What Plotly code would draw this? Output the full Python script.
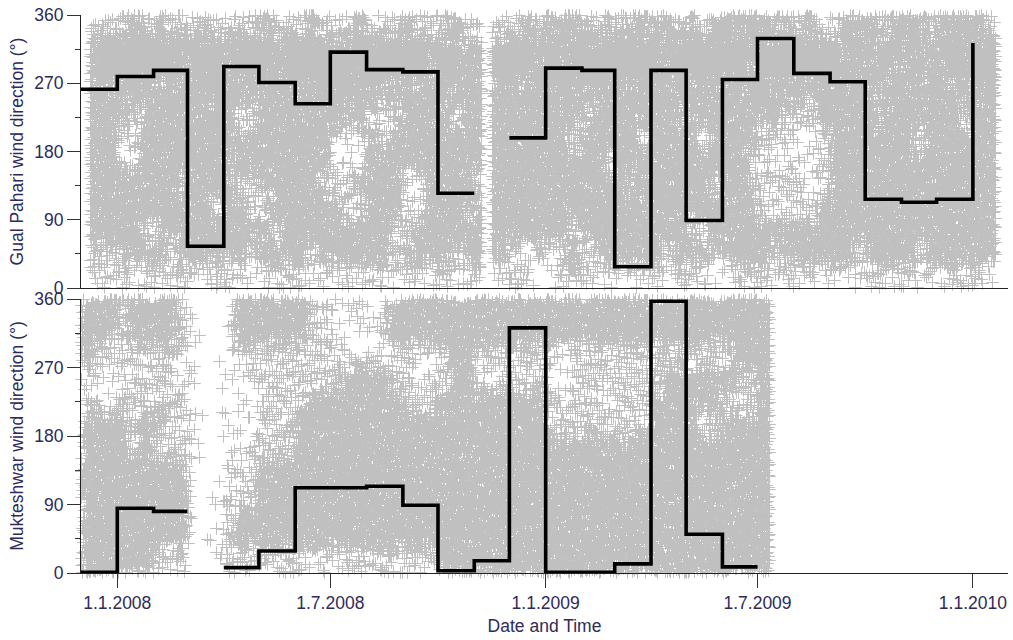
import numpy as np
import pandas as pd
import plotly.graph_objects as go

# ---------------------------------------------------------------------------
# Monthly mean wind direction (degrees), held over each calendar month
# ---------------------------------------------------------------------------
gp_months = pd.date_range("2007-12-01", "2010-01-01", freq="MS")
gp_mean = [262, 279, 287, 55, 292, 271, 243, 311, 288, 285, 125, None,
           198, 290, 287, 28, 287, 89, 275, 329, 283, 272, 117, 113, 117, 323]

mk_months = pd.date_range("2007-12-01", "2009-07-01", freq="MS")
mk_mean = [1, 85, 81, None, 7, 29, 112, 112, 114, 89, 3, 16,
           322, 1, 1, 12, 357, 51, 8, None]

# ---------------------------------------------------------------------------
# Hourly observation density (0 none .. 4 saturated).
# One row per 30-degree sector (330-360 first, 0-30 last); one character per
# ten-day period (days 1-10, 11-20, 21-end), grouped by month from Dec 2007.
# ---------------------------------------------------------------------------
gp_density = [
    "222 232 322 232 222 322 232 223 222 322 232 222 232 333 323 233 332 323 333 323 232 233 323 332 333 323",
    "344 444 444 444 444 444 444 444 444 444 443 344 444 434 444 444 444 444 444 444 444 434 344 443 444 444",
    "344 444 443 444 344 434 444 444 444 443 443 344 443 444 444 444 434 444 443 444 444 443 343 343 343 444",
    "333 343 333 334 333 333 333 443 433 333 333 333 333 343 333 333 334 333 334 433 333 333 333 333 333 433",
    "333 323 333 333 312 333 333 333 112 333 323 333 333 333 233 333 332 333 333 332 223 333 323 333 332 333",
    "333 113 333 333 333 333 333 211 323 333 333 333 333 332 333 332 333 323 333 212 121 333 333 323 333 333",
    "333 123 333 333 233 333 333 121 333 333 333 333 333 333 332 333 333 333 332 211 112 333 333 333 333 333",
    "333 333 332 333 322 333 332 223 333 113 333 233 333 333 333 323 333 332 333 122 212 333 333 333 333 333",
    "333 333 333 332 332 233 333 322 333 123 332 333 333 333 333 333 333 333 333 212 223 333 333 333 333 333",
    "333 332 233 333 333 323 333 333 332 233 333 333 333 332 333 333 333 213 333 333 333 333 333 333 333 333",
    "322 333 323 333 332 333 323 333 332 333 323 332 112 223 233 333 323 332 333 323 333 332 333 323 333 333",
    "122 212 122 212 221 122 212 121 212 221 212 212 221 122 212 121 212 221 122 212 121 212 221 212 122 212",
]
gp_period = ("2007-12-09", "2010-01-21")
gp_missing = [("2008-11-08", "2008-11-16")]

mk_density = [
    "333 233 332 000 133 333 322 112 123 333 333 333 333 333 333 333 333 333 333 333",
    "333 233 332 100 133 333 322 111 123 333 333 333 333 333 333 333 333 333 333 333",
    "322 222 222 100 122 222 222 122 222 211 233 222 222 212 222 222 222 222 233 333",
    "111 122 221 100 111 222 222 233 332 211 233 112 222 112 222 222 233 333 322 333",
    "221 222 222 100 011 222 233 333 333 222 333 333 333 222 221 222 333 333 222 333",
    "333 323 322 100 111 222 333 333 333 333 333 333 333 222 222 222 333 322 333 333",
    "333 323 222 100 112 222 333 333 333 333 333 333 333 333 333 333 333 333 333 333",
    "333 333 333 000 122 333 333 333 333 333 333 333 333 333 333 333 333 333 333 333",
    "333 333 333 001 222 333 333 333 333 333 333 333 333 333 333 333 333 333 333 333",
    "333 333 333 001 233 333 333 333 333 333 333 333 333 333 333 333 333 333 333 333",
    "333 333 333 001 233 333 333 333 333 333 333 333 333 333 333 333 333 333 333 333",
    "333 333 222 001 222 222 212 122 222 222 333 333 333 333 333 333 333 333 333 333",
]
mk_period = ("2007-12-01", "2009-07-12")
mk_missing = []

tick_dates = ["2008-01-01", "2008-07-01", "2009-01-01", "2009-07-01", "2010-01-01"]
tick_text = ["1.1.2008", "1.7.2008", "1.1.2009", "1.7.2009", "1.1.2010"]
dir_ticks = [0, 90, 180, 270, 360]
dir_minor = [45, 135, 225, 315]

# ---------------------------------------------------------------------------
# Figure geometry
# ---------------------------------------------------------------------------
W, H = 1013, 640
ML, MR, MT, MB = 81, 5, 15, 67
X0, X1 = pd.Timestamp("2007-12-01"), pd.Timestamp("2010-01-31")
PLOT_W = W - ML - MR
PLOT_H = H - MT - MB
PX_PER_DAY = PLOT_W / (X1 - X0).days

TOP_Y0, TOP_Y1 = 15, 288      # Gual Pahari panel (screen rows)
BOT_Y0, BOT_Y1 = 299, 573     # Mukteshwar panel
top_domain = [(H - MB - TOP_Y1) / PLOT_H, 1.0]
bot_domain = [0.0, (H - MB - BOT_Y0) / PLOT_H]

# sampling step per density level: (column step, row step)
SAMPLING = {1: (5, 24), 2: (2, 17), 3: (1, 12), 4: (1, 8)}


def scramble(a, b, m):
    """Deterministic integer scramble used to spread samples inside a cell."""
    v = (a * 73856093) ^ (b * 19349663) ^ ((a + 7) * (b + 13) * 83492791)
    v = (v ^ (v >> 13)) * 1274126177
    return (v >> 7) % m


def observation_cloud(density, period, missing, y0, y1):
    grid = np.array([[int(ch) for ch in row.replace(" ", "")] for row in density])
    n_rows, n_cols = grid.shape
    start, end = pd.Timestamp(period[0]), pd.Timestamp(period[1])
    cell_w = 10 * PX_PER_DAY
    cell_h = (y1 - y0) / 12
    xs, ys = [], []
    for level, (sx, sy) in SAMPLING.items():
        cols = np.arange(ML - 2, ML + PLOT_W + 2, sx).astype(np.int64)
        ks = np.arange(-1, (y1 - y0) // sy + 2).astype(np.int64)
        C, K = np.meshgrid(cols, ks)
        C = C + scramble(K, C * 3 + level, sx)
        R = y0 + scramble(C, 11 * level, sy) + K * sy + scramble(C, K + 97 * level, max(sy // 2, 1)) - sy // 4
        cx = C.ravel() + 0.5
        cy = R.ravel() + 0.5
        # soften cell borders by probing the grid at a nearby location
        px = cx + (scramble(C.ravel(), K.ravel() + 5, 1000) / 1000.0 - 0.5) * cell_w
        py = cy + (scramble(K.ravel() + 17, C.ravel(), 1000) / 1000.0 - 0.5) * cell_h
        dates = X0 + pd.to_timedelta((cx - ML) / PX_PER_DAY, unit="D")
        vals = (y1 - cy) / (y1 - y0) * 360.0
        pdates = X0 + pd.to_timedelta((px - ML) / PX_PER_DAY, unit="D")
        pvals = np.clip((y1 - py) / (y1 - y0) * 360.0, 0, 359.99)
        month_idx = (pdates.year - 2007) * 12 + pdates.month - 12
        third = np.minimum((pdates.day - 1) // 10, 2)
        col = np.asarray(month_idx * 3 + third)
        row = np.clip(((360.0 - pvals) // 30).astype(int), 0, n_rows - 1)
        ok = (vals >= 0) & (vals <= 360) & (col >= 0) & (col < n_cols)
        ok &= np.asarray((dates >= start) & (dates <= end))
        ok &= (cx >= ML) & (cx <= ML + PLOT_W)
        for a, b in missing:
            ok &= ~np.asarray((dates >= pd.Timestamp(a)) & (dates < pd.Timestamp(b)))
        idx = np.where(ok)[0]
        sel = grid[row[idx], col[idx]] == level
        idx = idx[sel]
        xs.append(dates[idx])
        ys.append(vals[idx])
    x = xs[0].append(xs[1:])
    return x, np.concatenate(ys)


def monthly_steps(months, values):
    xs, ys = [], []
    for i, v in enumerate(values):
        if v is None:
            if xs and xs[-1] is not None:
                xs.append(None)
                ys.append(None)
            continue
        xs.append(months[i])
        ys.append(v)
        if i + 1 < len(values):
            xs.append(months[i + 1])
            ys.append(v)
    return xs, ys


FONT = "Liberation Sans, Arial, sans-serif"
TEXT = "#2e2a5c"
GREY = "#c0c0c0"

fig = go.Figure()

for (dens, per, miss, y0, y1, xa, ya) in [
    (gp_density, gp_period, gp_missing, TOP_Y0, TOP_Y1, "x2", "y2"),
    (mk_density, mk_period, mk_missing, BOT_Y0, BOT_Y1, "x", "y"),
]:
    cx, cy = observation_cloud(dens, per, miss, y0, y1)
    fig.add_trace(go.Scatter(
        x=cx, y=cy, xaxis=xa, yaxis=ya, mode="markers",
        marker=dict(symbol="cross-thin", size=9, color=GREY,
                    line=dict(color=GREY, width=1)),
        cliponaxis=False, hoverinfo="skip", showlegend=False,
    ))

for months, vals, xa, ya in [(gp_months, gp_mean, "x2", "y2"),
                             (mk_months, mk_mean, "x", "y")]:
    sx, sy = monthly_steps(months, vals)
    fig.add_trace(go.Scatter(
        x=sx, y=sy, xaxis=xa, yaxis=ya, mode="lines",
        line=dict(color="black", width=3.6),
        cliponaxis=False, hoverinfo="skip", showlegend=False,
    ))

axis_font = dict(family=FONT, size=17.5, color=TEXT)
yaxis_common = dict(
    range=[0, 360], tickvals=dir_ticks, ticks="outside", ticklen=13,
    tickwidth=1, tickcolor="#333333", showline=True, linecolor="#222222",
    linewidth=1, showgrid=False, zeroline=False, tickfont=axis_font,
    minor=dict(tickvals=dir_minor, ticks="outside", ticklen=5,
               tickwidth=1, tickcolor="#333333"),
    title_font=dict(family=FONT, size=17.5, color=TEXT), title_standoff=6,
)
xaxis_common = dict(
    type="date", range=[X0, X1], showline=True, linecolor="#222222",
    linewidth=1, showgrid=False, zeroline=False,
)

fig.update_layout(
    width=W, height=H, margin=dict(l=ML, r=MR, t=MT, b=MB, autoexpand=False),
    paper_bgcolor="white", plot_bgcolor="white", showlegend=False,
    xaxis=dict(**xaxis_common, anchor="y", tickvals=tick_dates, ticktext=tick_text,
               ticks="outside", ticklen=14, tickwidth=1, tickcolor="#333333",
               tickfont=axis_font,
               title=dict(text="Date and Time", standoff=7,
                          font=dict(family=FONT, size=17.5, color=TEXT))),
    xaxis2=dict(**xaxis_common, anchor="y2", matches="x", showticklabels=False,
                ticks=""),
    yaxis=dict(**yaxis_common, domain=bot_domain, anchor="x",
               title_text="Mukteshwar wind direction (°)"),
    yaxis2=dict(**yaxis_common, domain=top_domain, anchor="x2",
                title_text="Gual Pahari wind direction (°)"),
)

fig.write_html("out.html")
